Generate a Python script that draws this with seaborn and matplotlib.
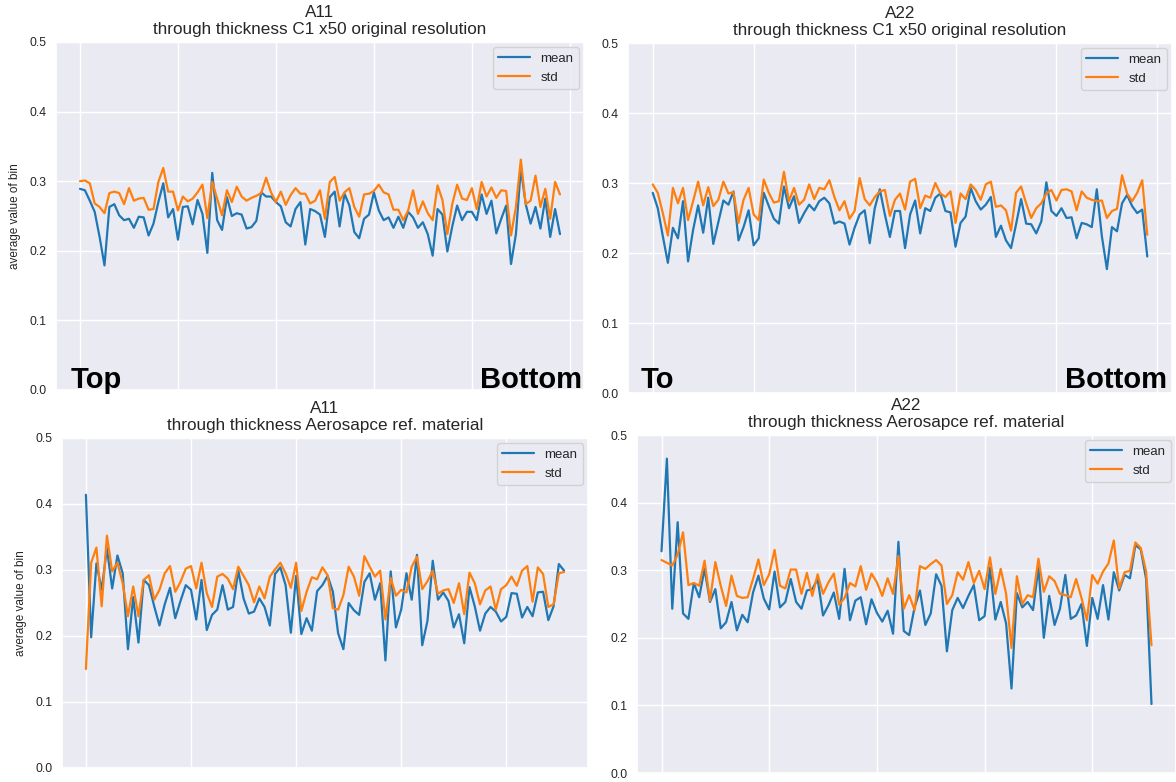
import matplotlib
matplotlib.use("Agg")
import matplotlib.pyplot as plt
import pandas as pd
import seaborn as sns

# ---- per-bin averages through the thickness ----
a11_c1_mean = [0.289, 0.287, 0.272, 0.256, 0.220, 0.179, 0.263, 0.267, 0.251, 0.244,
               0.246, 0.233, 0.249, 0.248, 0.222, 0.239, 0.270, 0.297, 0.248, 0.260,
               0.216, 0.263, 0.264, 0.238, 0.273, 0.253, 0.197, 0.312, 0.244, 0.230,
               0.277, 0.250, 0.254, 0.252, 0.232, 0.234, 0.243, 0.284, 0.278, 0.278,
               0.270, 0.264, 0.241, 0.235, 0.260, 0.270, 0.209, 0.260, 0.257, 0.252,
               0.220, 0.277, 0.285, 0.235, 0.282, 0.265, 0.227, 0.218, 0.246, 0.252,
               0.284, 0.258, 0.244, 0.248, 0.233, 0.249, 0.233, 0.256, 0.248, 0.233,
               0.241, 0.224, 0.193, 0.260, 0.252, 0.199, 0.235, 0.265, 0.244, 0.256,
               0.256, 0.244, 0.281, 0.253, 0.272, 0.225, 0.246, 0.265, 0.181, 0.224,
               0.318, 0.267, 0.239, 0.263, 0.232, 0.275, 0.220, 0.260, 0.224]
a11_c1_std = [0.300, 0.301, 0.297, 0.268, 0.263, 0.254, 0.283, 0.285, 0.283, 0.267,
              0.290, 0.272, 0.275, 0.276, 0.259, 0.260, 0.299, 0.319, 0.285, 0.285,
              0.258, 0.278, 0.271, 0.275, 0.284, 0.295, 0.247, 0.299, 0.275, 0.251,
              0.287, 0.270, 0.292, 0.278, 0.272, 0.276, 0.279, 0.283, 0.305, 0.284,
              0.270, 0.285, 0.266, 0.280, 0.290, 0.282, 0.282, 0.268, 0.272, 0.287,
              0.246, 0.299, 0.306, 0.272, 0.284, 0.290, 0.263, 0.249, 0.281, 0.282,
              0.286, 0.295, 0.284, 0.281, 0.259, 0.259, 0.244, 0.258, 0.287, 0.253,
              0.271, 0.254, 0.244, 0.294, 0.273, 0.224, 0.267, 0.295, 0.275, 0.273,
              0.290, 0.260, 0.299, 0.278, 0.291, 0.276, 0.287, 0.286, 0.222, 0.263,
              0.331, 0.267, 0.272, 0.308, 0.263, 0.289, 0.246, 0.299, 0.281]

a22_c1_mean = [0.286, 0.264, 0.224, 0.186, 0.236, 0.221, 0.274, 0.188, 0.233, 0.268,
               0.229, 0.279, 0.213, 0.244, 0.275, 0.269, 0.288, 0.218, 0.237, 0.261,
               0.211, 0.221, 0.286, 0.267, 0.249, 0.242, 0.295, 0.264, 0.281, 0.243,
               0.257, 0.269, 0.261, 0.274, 0.279, 0.271, 0.242, 0.245, 0.242, 0.212,
               0.236, 0.255, 0.261, 0.214, 0.264, 0.291, 0.255, 0.223, 0.260, 0.260,
               0.207, 0.255, 0.275, 0.228, 0.264, 0.260, 0.279, 0.285, 0.260, 0.258,
               0.209, 0.243, 0.252, 0.293, 0.274, 0.262, 0.269, 0.280, 0.223, 0.239,
               0.218, 0.207, 0.241, 0.277, 0.242, 0.241, 0.228, 0.245, 0.301, 0.260,
               0.253, 0.264, 0.250, 0.251, 0.221, 0.243, 0.241, 0.237, 0.291, 0.224,
               0.177, 0.237, 0.231, 0.271, 0.283, 0.267, 0.257, 0.262, 0.195]
a22_c1_std = [0.298, 0.286, 0.257, 0.225, 0.293, 0.271, 0.293, 0.247, 0.274, 0.302,
              0.268, 0.294, 0.267, 0.276, 0.302, 0.285, 0.287, 0.243, 0.276, 0.293,
              0.255, 0.247, 0.305, 0.286, 0.272, 0.274, 0.316, 0.274, 0.293, 0.269,
              0.276, 0.298, 0.277, 0.293, 0.291, 0.304, 0.280, 0.261, 0.274, 0.249,
              0.260, 0.307, 0.277, 0.268, 0.280, 0.288, 0.290, 0.253, 0.276, 0.285,
              0.262, 0.302, 0.306, 0.264, 0.282, 0.279, 0.300, 0.285, 0.280, 0.288,
              0.243, 0.285, 0.277, 0.298, 0.290, 0.276, 0.298, 0.302, 0.266, 0.268,
              0.261, 0.232, 0.286, 0.295, 0.271, 0.250, 0.264, 0.271, 0.285, 0.290,
              0.275, 0.290, 0.291, 0.288, 0.261, 0.288, 0.279, 0.276, 0.274, 0.275,
              0.250, 0.260, 0.263, 0.311, 0.285, 0.274, 0.286, 0.304, 0.226]

a11_aero_mean = [0.414, 0.198, 0.310, 0.270, 0.333, 0.272, 0.322, 0.295, 0.180, 0.259,
                 0.190, 0.285, 0.277, 0.245, 0.216, 0.248, 0.273, 0.227, 0.253, 0.277,
                 0.270, 0.225, 0.285, 0.209, 0.232, 0.240, 0.277, 0.240, 0.244, 0.299,
                 0.257, 0.234, 0.237, 0.257, 0.244, 0.216, 0.294, 0.304, 0.277, 0.205,
                 0.291, 0.203, 0.227, 0.208, 0.268, 0.277, 0.291, 0.267, 0.204, 0.180,
                 0.250, 0.239, 0.232, 0.282, 0.295, 0.255, 0.280, 0.163, 0.298, 0.213,
                 0.240, 0.295, 0.255, 0.323, 0.186, 0.223, 0.314, 0.255, 0.266, 0.253,
                 0.213, 0.233, 0.189, 0.274, 0.245, 0.208, 0.234, 0.244, 0.237, 0.222,
                 0.229, 0.265, 0.264, 0.228, 0.244, 0.230, 0.266, 0.267, 0.224, 0.245,
                 0.309, 0.299]
a11_aero_std = [0.150, 0.311, 0.334, 0.245, 0.352, 0.298, 0.311, 0.280, 0.230, 0.275,
                0.230, 0.285, 0.292, 0.255, 0.270, 0.295, 0.306, 0.267, 0.282, 0.302,
                0.306, 0.272, 0.311, 0.265, 0.244, 0.290, 0.294, 0.287, 0.271, 0.305,
                0.291, 0.277, 0.251, 0.275, 0.257, 0.290, 0.301, 0.311, 0.295, 0.273,
                0.311, 0.238, 0.267, 0.289, 0.286, 0.304, 0.292, 0.242, 0.240, 0.262,
                0.305, 0.290, 0.261, 0.321, 0.305, 0.290, 0.299, 0.225, 0.288, 0.261,
                0.270, 0.266, 0.305, 0.320, 0.271, 0.283, 0.299, 0.264, 0.269, 0.271,
                0.250, 0.280, 0.233, 0.296, 0.280, 0.248, 0.269, 0.275, 0.240, 0.271,
                0.277, 0.290, 0.276, 0.299, 0.306, 0.252, 0.304, 0.294, 0.244, 0.248,
                0.295, 0.297]

a22_aero_mean = [0.328, 0.465, 0.243, 0.371, 0.236, 0.228, 0.281, 0.260, 0.302, 0.253,
                 0.272, 0.214, 0.223, 0.253, 0.211, 0.234, 0.223, 0.267, 0.292, 0.258,
                 0.242, 0.298, 0.245, 0.253, 0.287, 0.253, 0.243, 0.270, 0.272, 0.287,
                 0.233, 0.248, 0.267, 0.228, 0.302, 0.226, 0.255, 0.260, 0.220, 0.257,
                 0.237, 0.224, 0.240, 0.206, 0.342, 0.210, 0.204, 0.245, 0.270, 0.219,
                 0.236, 0.294, 0.277, 0.180, 0.241, 0.259, 0.244, 0.262, 0.278, 0.226,
                 0.232, 0.304, 0.227, 0.253, 0.221, 0.125, 0.266, 0.245, 0.253, 0.241,
                 0.304, 0.200, 0.262, 0.219, 0.243, 0.293, 0.228, 0.233, 0.250, 0.188,
                 0.259, 0.228, 0.278, 0.227, 0.297, 0.270, 0.293, 0.288, 0.337, 0.331,
                 0.287, 0.102]
a22_aero_std = [0.315, 0.311, 0.307, 0.323, 0.356, 0.278, 0.281, 0.277, 0.314, 0.255,
                0.312, 0.277, 0.247, 0.292, 0.262, 0.259, 0.260, 0.287, 0.316, 0.278,
                0.294, 0.330, 0.277, 0.273, 0.301, 0.301, 0.265, 0.296, 0.262, 0.294,
                0.265, 0.282, 0.295, 0.249, 0.259, 0.281, 0.276, 0.306, 0.271, 0.295,
                0.282, 0.262, 0.288, 0.265, 0.321, 0.243, 0.263, 0.241, 0.306, 0.302,
                0.309, 0.315, 0.307, 0.250, 0.263, 0.297, 0.286, 0.312, 0.281, 0.299,
                0.272, 0.319, 0.265, 0.302, 0.265, 0.185, 0.291, 0.250, 0.263, 0.260,
                0.317, 0.268, 0.291, 0.284, 0.265, 0.263, 0.260, 0.287, 0.259, 0.226,
                0.293, 0.280, 0.298, 0.310, 0.344, 0.273, 0.297, 0.299, 0.341, 0.333,
                0.298, 0.189]

titles = ["A11\nthrough thickness C1 x50 original resolution",
          "A22\nthrough thickness C1 x50 original resolution",
          "A11\nthrough thickness Aerosapce ref. material",
          "A22\nthrough thickness Aerosapce ref. material"]
series_names = ["mean", "std"]
ylabel_text = "average value of bin"
y_ticks = [0.0, 0.1, 0.2, 0.3, 0.4, 0.5]

sns.set_theme(style="darkgrid")
plt.rcParams["font.family"] = ["Liberation Sans", "DejaVu Sans"]

W, H = 1176, 782
fig = plt.figure(figsize=(W / 100, H / 100), dpi=100)


def rect(left, top, right, bottom):
    return [left / W, 1 - bottom / H, (right - left) / W, (bottom - top) / H]


layout = [
    (rect(56, 42, 584, 390), a11_c1_mean, a11_c1_std, True, ("Top", 0.027), ("Bottom", 0.996), 0.007),
    (rect(628, 43, 1172, 393), a22_c1_mean, a22_c1_std, False, ("To", 0.023), ("Bottom", 0.991), 0.014),
    (rect(62, 438, 588, 768), a11_aero_mean, a11_aero_std, True, None, None, 0),
    (rect(637, 435, 1176, 773), a22_aero_mean, a22_aero_std, False, None, None, 0),
]

palette = ["#1f77b4", "#ff7f0e"]

for (box, mean_vals, std_vals, show_ylabel, left_tag, right_tag, tag_y), title in zip(layout, titles):
    ax = fig.add_axes(box)
    df = pd.DataFrame({series_names[0]: mean_vals, series_names[1]: std_vals})
    sns.lineplot(data=df, ax=ax, palette=palette, dashes=False, linewidth=1.6)
    ax.set_ylim(0, 0.5)
    ax.set_yticks(y_ticks)
    ax.set_xticklabels([])
    ax.tick_params(axis="both", length=0, labelsize=8.8, pad=7, labelcolor="#262626")
    ax.set_title(title, fontsize=12.3, pad=6, linespacing=1.15, color="#262626")
    if show_ylabel:
        ax.set_ylabel(ylabel_text, fontsize=8.5, color="#262626", labelpad=6)
    else:
        ax.set_ylabel("")
    ax.legend(loc="upper right", fontsize=9.5, handlelength=2.4, borderaxespad=0.4)
    if left_tag is not None:
        ax.text(left_tag[1], tag_y, left_tag[0], transform=ax.transAxes, ha="left",
                va="baseline", fontsize=21, fontweight="bold", color="black")
        ax.text(right_tag[1], tag_y, right_tag[0], transform=ax.transAxes, ha="right",
                va="baseline", fontsize=21, fontweight="bold", color="black")

fig.savefig("out.png", dpi=100)
